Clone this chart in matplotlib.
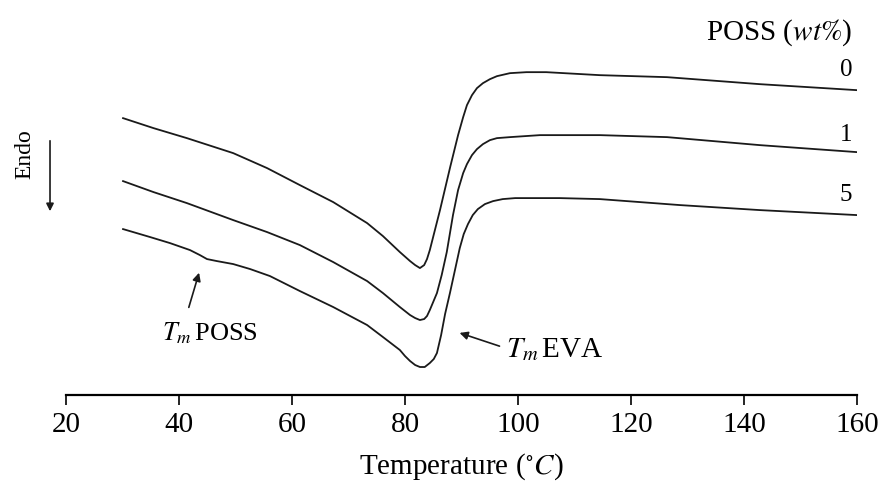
import matplotlib
matplotlib.use("Agg")
import matplotlib.pyplot as plt
from matplotlib.patches import FancyArrowPatch

plt.rcParams['font.family'] = ['Liberation Serif', 'DejaVu Serif']
plt.rcParams['mathtext.fontset'] = 'stix'

# DSC traces, heat flow in arbitrary units (endo down)
t0 = [30.1, 35.5, 41.4, 49.6, 55.6, 61.4, 67.3, 73.3, 76.1, 79.1, 80.9, 81.8, 82.65,
      83.4, 83.9, 84.4, 86.2, 88.0, 89.4, 90.3, 90.97, 91.86, 92.74, 93.8, 95.04,
      96.28, 98.58, 101.5, 105.0, 114.5, 126.4, 142.8, 160.0]
hf0 = [2.77, 2.67, 2.57, 2.42, 2.27, 2.10, 1.93, 1.72, 1.59, 1.43, 1.34, 1.30, 1.27,
       1.30, 1.36, 1.45, 1.85, 2.28, 2.60, 2.78, 2.90, 3.00, 3.07, 3.12, 3.16,
       3.19, 3.22, 3.23, 3.23, 3.20, 3.18, 3.11, 3.05]

t1 = [30.1, 35.5, 41.4, 49.6, 55.6, 61.4, 67.3, 73.3, 76.1, 79.1, 80.0, 80.9, 81.8,
      82.65, 83.4, 83.9, 84.4, 85.66, 86.5, 87.4, 88.5, 89.4, 90.3, 90.97, 91.86,
      92.74, 93.8, 95.04, 96.28, 98.58, 103.9, 114.5, 126.4, 142.8, 160.0]
hf1 = [2.14, 2.03, 1.92, 1.75, 1.63, 1.50, 1.33, 1.14, 1.02, 0.88, 0.84, 0.80, 0.77,
       0.75, 0.76, 0.79, 0.85, 1.02, 1.20, 1.43, 1.80, 2.05, 2.22, 2.31, 2.40,
       2.46, 2.51, 2.55, 2.57, 2.58, 2.60, 2.60, 2.58, 2.50, 2.43]

t5 = [30.1, 34.9, 38.4, 41.95, 43.7, 44.96, 46.7, 49.6, 52.6, 56.1, 61.4, 67.3, 73.3,
      76.1, 79.1, 80.0, 80.9, 81.8, 82.65, 83.5, 84.4, 85.1, 85.66, 86.4, 87.1, 87.96,
      88.85, 89.7, 90.4, 91.15, 92.0, 92.9, 94.15, 95.6, 97.3, 99.5, 107.4, 114.5,
      128.7, 142.8, 160.0]
hf5 = [1.66, 1.58, 1.52, 1.45, 1.40, 1.36, 1.34, 1.31, 1.26, 1.19, 1.04, 0.88, 0.70,
       0.58, 0.45, 0.39, 0.34, 0.30, 0.28, 0.28, 0.32, 0.36, 0.42, 0.60, 0.81, 1.02,
       1.25, 1.47, 1.61, 1.71, 1.80, 1.86, 1.91, 1.94, 1.96, 1.97, 1.97, 1.96,
       1.90, 1.85, 1.80]

series = [(t0, hf0, '0'), (t1, hf1, '1'), (t5, hf5, '5')]
label_y = [3.25, 2.60, 2.00]
xticks = [20, 40, 60, 80, 100, 120, 140, 160]

fig = plt.figure(figsize=(8.82, 4.83), dpi=100)
ax = fig.add_axes([0.0748, 0.1822, 0.8968, 0.776])

for (t, hf, name), ly in zip(series, label_y):
    ax.plot(t, hf, color='#1a1a1a', lw=1.3)
    ax.text(159.2, ly, name, ha='right', va='center', fontsize=18)

ax.text(159.2, 3.63, 'POSS ($\\mathit{wt\\%}$)', ha='right', va='center', fontsize=21)

ax.annotate('', xy=(43.7, 1.25), xytext=(41.6, 0.85),
            arrowprops=dict(arrowstyle='-|>', color='#1a1a1a', lw=1.2, mutation_scale=12))
ax.text(37.0, 0.62, '$T_m\\,$POSS', ha='left', va='center', fontsize=19)

ax.annotate('', xy=(89.2, 0.63), xytext=(97.2, 0.48),
            arrowprops=dict(arrowstyle='-|>', color='#1a1a1a', lw=1.2, mutation_scale=12))
ax.text(97.9, 0.45, '$T_m\\,$EVA', ha='left', va='center', fontsize=21)

fig.text(0.028, 1 - 154 / 483, 'Endo', rotation=90, ha='center', va='center', fontsize=17)
fig.add_artist(FancyArrowPatch(
    (0.0567, 1 - 138 / 483), (0.0567, 1 - 214 / 483), transform=fig.transFigure,
    arrowstyle='-|>', mutation_scale=11, lw=1.2, color='#1a1a1a'))

ax.set_xlim(20, 160)
ax.set_ylim(0, 3.75)
ax.set_xticks(xticks)
ax.set_yticks([])
for s in ['top', 'right', 'left']:
    ax.spines[s].set_visible(False)
ax.spines['bottom'].set_linewidth(1.6)
ax.tick_params(axis='x', direction='out', length=7, width=1.2, labelsize=21, pad=5)
ax.set_xlabel('Temperature ($^{\\circ}C$)', fontsize=21, labelpad=10)

fig.savefig('out.png', dpi=100)
